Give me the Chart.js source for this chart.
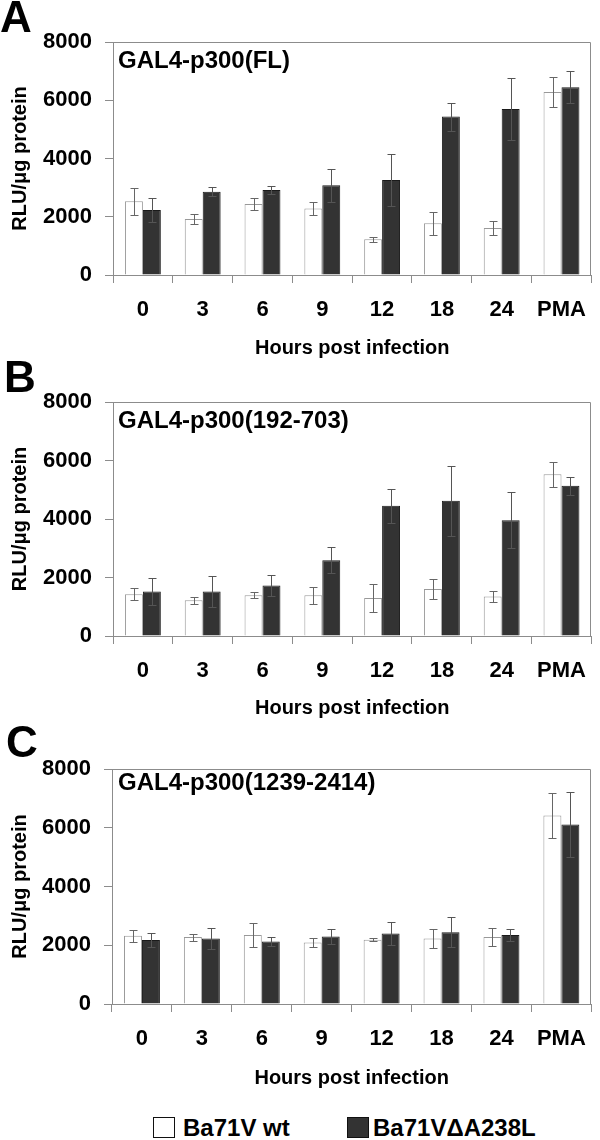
<!DOCTYPE html>
<html>
<head>
<meta charset="utf-8">
<script src="https://cdn.jsdelivr.net/npm/chart.js@4.4.1/dist/chart.umd.min.js"></script>
<style>
  body { margin: 0; background: #fff; }
  #page { position: relative; width: 600px; height: 1140px; overflow: hidden; font-family: "Liberation Sans", Arial, sans-serif; }
  canvas { position: absolute; left: 0; }
  .lg-box { position: absolute; top: 1117px; width: 20px; height: 19px; border: 1.5px solid #111; }
  .lg-text { position: absolute; top: 1116px; font-size: 24px; line-height: 24px; font-weight: bold; color: #000; white-space: nowrap; }
</style>
</head>
<body>
<div id="page">
  <canvas id="chartA" width="600" height="360" style="top:0px"></canvas>
  <canvas id="chartB" width="600" height="360" style="top:360px"></canvas>
  <canvas id="chartC" width="600" height="370" style="top:720px"></canvas>
  <div class="lg-box" style="left:153px;background:#fff"></div>
  <div class="lg-text" style="left:183px">Ba71V wt</div>
  <div class="lg-box" style="left:347px;background:#333"></div>
  <div class="lg-text" style="left:373px">Ba71VΔA238L</div>
</div>
<script>
// categories (hours post infection)
const categories = ["0", "3", "6", "9", "12", "18", "24", "PMA"];
const yTicks = [0, 2000, 4000, 6000, 8000];

// A: GAL4-p300(FL)
const wtA = [2530, 1920, 2440, 2280, 1230, 1780, 1610, 6280];
const wtAErr = [460, 180, 220, 210, 90, 390, 230, 510];
const delA = [2230, 2860, 2920, 3080, 3260, 5440, 5700, 6450];
const delAErr = [410, 150, 135, 560, 900, 480, 1050, 560];

// B: GAL4-p300(192-703)
const wtB = [1430, 1220, 1390, 1390, 1300, 1610, 1350, 5530];
const wtBErr = [200, 120, 100, 280, 490, 340, 190, 430];
const delB = [1520, 1520, 1730, 2590, 4450, 4620, 3960, 5140];
const delBErr = [450, 520, 370, 440, 590, 1200, 950, 310];

// C: GAL4-p300(1239-2414)
const wtC = [2320, 2280, 2350, 2090, 2190, 2230, 2280, 6420];
const wtCErr = [215, 120, 400, 150, 60, 320, 300, 760];
const delC = [2180, 2230, 2130, 2300, 2400, 2440, 2350, 6110];
const delCErr = [250, 370, 160, 270, 380, 510, 210, 1120];

const FONT = "'Liberation Sans', Arial, sans-serif";
const AXIS = "#8c8c8c";

// error bars, box, inner title and panel letter
const panelExtras = {
    id: "panelExtras",
    afterDatasetsDraw(chart, args, opts) {
        const ctx = chart.ctx;
        const y = chart.scales.y;
        ctx.save();
        ctx.lineWidth = 1;
        chart.data.datasets.forEach((ds, i) => {
            const meta = chart.getDatasetMeta(i);
            ctx.strokeStyle = i === 0 ? "#666" : "#555";
            meta.data.forEach((bar, j) => {
                const v = ds.data[j], e = ds.errors[j];
                const top = Math.round(y.getPixelForValue(v + e)) + 0.5;
                const bot = Math.round(y.getPixelForValue(v - e)) + 0.5;
                const x = Math.round(bar.x) + 0.5;
                ctx.beginPath();
                ctx.moveTo(x, top); ctx.lineTo(x, bot);
                ctx.moveTo(x - 4, top); ctx.lineTo(x + 4, top);
                ctx.moveTo(x - 4, bot); ctx.lineTo(x + 4, bot);
                ctx.stroke();
            });
        });
        ctx.restore();
    },
    afterDraw(chart, args, opts) {
        const ctx = chart.ctx;
        const a = chart.chartArea;
        ctx.save();
        ctx.strokeStyle = AXIS;
        ctx.lineWidth = 1;
        ctx.beginPath();
        ctx.moveTo(Math.round(a.left) + 0.5, Math.round(a.top) + 0.5);
        ctx.lineTo(Math.round(a.right) - 0.5, Math.round(a.top) + 0.5);
        ctx.lineTo(Math.round(a.right) - 0.5, Math.round(a.bottom));
        ctx.stroke();
        ctx.fillStyle = "#000";
        ctx.textBaseline = "alphabetic";
        ctx.textAlign = "left";
        ctx.font = "bold 24px " + FONT;
        ctx.fillText(opts.title, a.left + opts.titleDx, a.top + opts.titleDy);
        ctx.font = "bold 44px " + FONT;
        ctx.fillText(opts.letter, opts.letterX, opts.letterY);
        ctx.restore();
    }
};

function createPanel(canvasId, wt, wtErr, del, delErr, cfg) {
    new Chart(document.getElementById(canvasId), {
        type: "bar",
        data: {
            labels: categories,
            datasets: [
                { label: "Ba71V wt", data: wt, errors: wtErr, backgroundColor: "#fff", borderColor: "#999", borderWidth: 1 },
                { label: "Ba71VΔA238L", data: del, errors: delErr, backgroundColor: "#333", borderColor: "#1a1a1a", borderWidth: 1 }
            ]
        },
        options: {
            responsive: false,
            animation: false,
            layout: { padding: { top: cfg.top, right: 600 - cfg.right, left: 0, bottom: 0 } },
            datasets: { bar: { categoryPercentage: 0.6, barPercentage: 1.0 } },
            scales: {
                x: {
                    grid: { offset: true, drawOnChartArea: false, drawTicks: true, tickLength: 8, color: AXIS },
                    border: { color: AXIS },
                    ticks: { color: "#000", font: { family: FONT, size: 22, weight: "bold" }, padding: 14 },
                    title: { display: true, text: "Hours post infection", color: "#000", font: { family: FONT, size: 20, weight: "bold" }, padding: { top: 0, bottom: 0 } },
                    afterFit: (s) => { s.height = cfg.height - cfg.bottom; }
                },
                y: {
                    min: 0, max: 8000,
                    afterBuildTicks: (s) => { s.ticks = yTicks.map(v => ({ value: v })); },
                    grid: { drawOnChartArea: false, drawTicks: true, tickLength: 8, color: AXIS },
                    border: { color: AXIS },
                    ticks: { color: "#000", font: { family: FONT, size: 22, weight: "bold" }, padding: 13, callback: (v) => String(v) },
                    title: { display: true, text: "RLU/μg protein", color: "#000", font: { family: FONT, size: 20, weight: "bold" }, padding: { top: 8, bottom: 0 } },
                    afterFit: (s) => { s.width = cfg.left; }
                }
            },
            plugins: {
                legend: { display: false },
                tooltip: { enabled: false },
                panelExtras: cfg.extras
            }
        },
        plugins: [panelExtras]
    });
}

createPanel("chartA", wtA, wtAErr, delA, delAErr, {
    top: 42, bottom: 275, left: 113, right: 599, height: 360,
    extras: { title: "GAL4-p300(FL)", titleDx: 5, titleDy: 26, letter: "A", letterX: 0, letterY: 32 }
});
createPanel("chartB", wtB, wtBErr, delB, delBErr, {
    top: 42, bottom: 276, left: 113, right: 599, height: 360,
    extras: { title: "GAL4-p300(192-703)", titleDx: 5, titleDy: 26, letter: "B", letterX: 4, letterY: 32 }
});
createPanel("chartC", wtC, wtCErr, delC, delCErr, {
    top: 49, bottom: 284, left: 112, right: 597, height: 370,
    extras: { title: "GAL4-p300(1239-2414)", titleDx: 6, titleDy: 21, letter: "C", letterX: 6, letterY: 37 }
});
</script>
</body>
</html>
